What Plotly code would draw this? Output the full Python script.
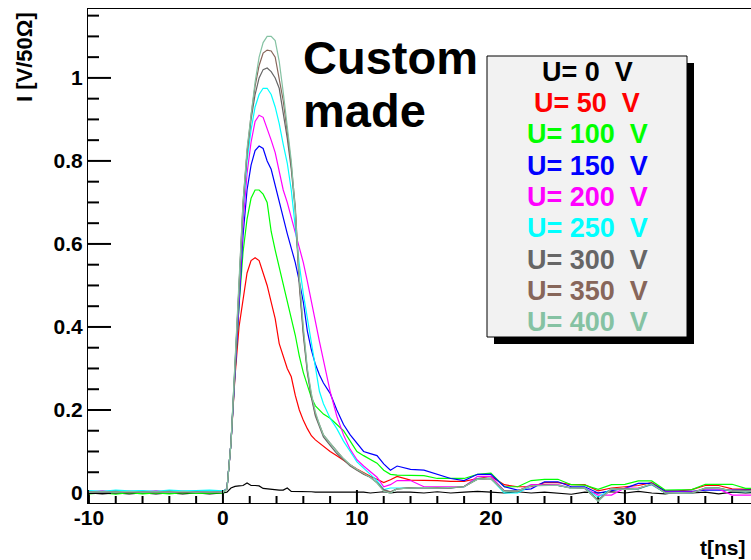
import plotly.graph_objects as go

# ---------------- data ----------------
T_PRE = [-10, -9, -8, -7, -6, -5, -4, -3, -2, -1, 0]
T_PULSE = [0.3, 0.6, 0.9, 1.2, 1.5, 1.8, 2.1, 2.4, 2.7, 3.0, 3.3, 3.6, 3.9, 4.2,
           4.5, 4.8, 5.1, 5.4, 5.7, 6.0, 6.3, 6.6, 6.9, 7.2, 7.5]
T_MID = [8.0, 8.5, 9.0, 9.5, 10, 10.5, 11, 11.5, 12, 12.5, 13]
T_TAIL = [14, 15, 16, 17, 18, 19, 20, 21, 22, 23, 24, 25, 26, 27, 28, 29, 30,
          31, 32, 33, 34, 35, 36, 37, 38, 39, 40]
T = T_PRE + T_PULSE + T_MID + T_TAIL

labels = ["U= 0  V", "U= 50  V", "U= 100  V", "U= 150  V", "U= 200  V",
          "U= 250  V", "U= 300  V", "U= 350  V", "U= 400  V"]

x_ticks = [-10, 0, 10, 20, 30]
x_ticktext = ["-10", "0", "10", "20", "30"]
x_minor = [-8, -6, -4, -2, 2, 4, 6, 8, 12, 14, 16, 18, 22, 24, 26, 28, 32, 34, 36, 38]
y_ticks = [0, 0.2, 0.4, 0.6, 0.8, 1.0]
y_ticktext = ["0", "0.2", "0.4", "0.6", "0.8", "1"]
y_minor = [0.05, 0.1, 0.15, 0.25, 0.3, 0.35, 0.45, 0.5, 0.55, 0.65, 0.7, 0.75,
           0.85, 0.9, 0.95, 1.05, 1.1, 1.15]

u0 = ([0.0, -0.002, 0.0, -0.002, 0.0, -0.002, 0.0, -0.002, 0.0, -0.002, 0.0]
      + [0.002, 0.012, 0.016, 0.017, 0.018, 0.024, 0.018, 0.018, 0.017, 0.011, 0.01, 0.008,
         0.008, 0.007, 0.007, 0.012, 0.004, 0.004, 0.004, 0.003, 0.003, 0.003, 0.002, 0.002, 0.002]
      + [0.002, 0.003, 0.002, 0.002, 0.003, 0.002, 0.0, 0.002, 0.003, 0.0, 0.002]
      + [0.002, 0.0, 0.003, 0.0, 0.002, 0.004, 0.002, 0.0, 0.003, 0.0, 0.002, 0.0, -0.003,
         0.002, 0.0, 0.003, 0.0, 0.004, 0.0, -0.002, 0.002, 0.0, 0.002, -0.002, 0.002, 0.0, 0.002])
u50 = ([0.002, 0.004, 0.002, 0.003, 0.001, 0.004, 0.002, 0.003, 0.002, 0.004, 0.003]
       + [0.01, 0.12, 0.28, 0.40, 0.47, 0.53, 0.56, 0.567, 0.56, 0.53, 0.50, 0.46, 0.42,
          0.36, 0.33, 0.30, 0.28, 0.235, 0.20, 0.175, 0.155, 0.138, 0.128, 0.12, 0.114]
       + [0.10, 0.09, 0.078, 0.068, 0.058, 0.048, 0.04, 0.033, 0.025, 0.032, 0.04]
       + [0.031, 0.031, 0.03, 0.028, 0.028, 0.035, 0.04, 0.02, 0.015, 0.015, 0.025, 0.025,
          0.02, 0.02, 0.005, 0.012, 0.015, 0.018, 0.025, 0.005, 0.005, 0.008, 0.018, 0.018,
          0.01, 0.008, 0.008])
u100 = ([-0.002, 0.0, -0.003, 0.001, -0.002, 0.0, -0.002, 0.001, -0.001, 0.0, 0.0]
        + [0.01, 0.12, 0.29, 0.45, 0.58, 0.66, 0.71, 0.73, 0.73, 0.72, 0.70, 0.63, 0.585,
           0.545, 0.505, 0.465, 0.42, 0.38, 0.33, 0.29, 0.26, 0.23, 0.21, 0.20, 0.19]
        + [0.18, 0.165, 0.15, 0.125, 0.10, 0.09, 0.08, 0.072, 0.055, 0.045, 0.043]
        + [0.043, 0.042, 0.035, 0.035, 0.035, 0.045, 0.048, 0.015, 0.015, 0.03, 0.033, 0.033,
           0.02, 0.019, 0.009, 0.02, 0.021, 0.029, 0.029, 0.007, 0.007, 0.008, 0.021, 0.021,
           0.021, 0.011, 0.011])
u150 = ([0.004, 0.002, 0.005, 0.003, 0.004, 0.002, 0.005, 0.003, 0.004, 0.003, 0.004]
        + [0.01, 0.12, 0.29, 0.47, 0.62, 0.73, 0.79, 0.825, 0.836, 0.83, 0.80, 0.78, 0.74,
           0.705, 0.66, 0.625, 0.59, 0.555, 0.51, 0.46, 0.39, 0.345, 0.31, 0.285, 0.265]
        + [0.24, 0.20, 0.165, 0.14, 0.12, 0.10, 0.095, 0.09, 0.07, 0.055, 0.065]
        + [0.057, 0.055, 0.045, 0.035, 0.03, 0.045, 0.045, 0.015, 0.007, 0.01, 0.027, 0.027,
           0.015, 0.015, 0.0, 0.005, 0.011, 0.023, 0.023, 0.004, 0.004, 0.004, 0.007, 0.007,
           0.007, 0.007, 0.007])
u200 = ([0.003, 0.005, 0.002, 0.004, 0.003, 0.005, 0.002, 0.004, 0.003, 0.005, 0.003]
        + [0.01, 0.12, 0.29, 0.48, 0.65, 0.77, 0.845, 0.895, 0.91, 0.905, 0.88, 0.85, 0.82,
           0.775, 0.73, 0.70, 0.665, 0.625, 0.59, 0.555, 0.51, 0.46, 0.41, 0.365, 0.32]
        + [0.245, 0.185, 0.14, 0.105, 0.08, 0.065, 0.052, 0.038, 0.015, 0.02, 0.03]
        + [0.03, 0.015, 0.015, 0.015, 0.015, 0.04, 0.04, 0.005, 0.005, 0.02, 0.02, 0.02,
           0.012, 0.012, -0.005, -0.005, 0.012, 0.012, 0.02, 0.002, 0.002, 0.002, 0.01, 0.01,
           -0.005, -0.005, -0.005])
u250 = ([0.006, 0.004, 0.007, 0.005, 0.006, 0.004, 0.007, 0.005, 0.006, 0.007, 0.005]
        + [0.01, 0.12, 0.29, 0.49, 0.68, 0.80, 0.875, 0.93, 0.96, 0.975, 0.975, 0.96, 0.93,
           0.89, 0.84, 0.795, 0.73, 0.64, 0.55, 0.48, 0.42, 0.36, 0.30, 0.245, 0.215]
        + [0.18, 0.155, 0.125, 0.10, 0.075, 0.06, 0.045, 0.03, 0.008, 0.012, 0.012]
        + [0.012, 0.012, 0.012, 0.012, 0.015, 0.035, 0.035, 0.0, 0.0, 0.018, 0.018, 0.018,
           0.012, 0.012, -0.01, 0.01, 0.01, 0.01, 0.02, 0.0, 0.0, 0.0, 0.012, 0.012,
           0.003, 0.003, 0.003])
u300 = ([0.002, 0.003, 0.001, 0.003, 0.002, 0.001, 0.003, 0.002, 0.001, 0.003, 0.002]
        + [0.01, 0.12, 0.30, 0.50, 0.69, 0.82, 0.90, 0.96, 1.0, 1.02, 1.024, 1.015, 1.0,
           0.975, 0.92, 0.855, 0.78, 0.68, 0.50, 0.38, 0.29, 0.23, 0.185, 0.16, 0.135]
        + [0.115, 0.095, 0.08, 0.065, 0.055, 0.045, 0.038, 0.025, 0.008, 0.003, 0.01]
        + [0.012, 0.012, 0.012, 0.012, 0.015, 0.033, 0.035, 0.005, 0.005, 0.018, 0.018, 0.018,
           0.012, 0.012, -0.017, 0.01, 0.01, 0.01, 0.022, 0.0, 0.0, 0.0, 0.012, 0.012,
           0.005, 0.005, 0.005])
u350 = ([0.003, 0.002, 0.004, 0.002, 0.003, 0.002, 0.004, 0.002, 0.003, 0.002, 0.003]
        + [0.01, 0.12, 0.30, 0.50, 0.70, 0.82, 0.91, 0.98, 1.03, 1.06, 1.067, 1.065, 1.05,
           1.0, 0.945, 0.87, 0.79, 0.69, 0.51, 0.39, 0.295, 0.235, 0.19, 0.165, 0.14]
        + [0.12, 0.10, 0.082, 0.067, 0.056, 0.046, 0.038, 0.025, 0.006, 0.002, 0.01]
        + [0.013, 0.012, 0.013, 0.012, 0.016, 0.034, 0.034, 0.004, 0.004, 0.018, 0.019, 0.018,
           0.012, 0.011, -0.018, 0.009, 0.01, 0.011, 0.021, 0.001, 0.0, 0.001, 0.011, 0.012,
           0.004, 0.005, 0.005])
u400 = ([0.002, 0.003, 0.002, 0.004, 0.002, 0.003, 0.002, 0.004, 0.002, 0.003, 0.002]
        + [0.01, 0.12, 0.30, 0.51, 0.70, 0.83, 0.91, 0.99, 1.05, 1.085, 1.10, 1.10, 1.09,
           1.04, 0.965, 0.888, 0.80, 0.68, 0.52, 0.40, 0.30, 0.24, 0.195, 0.165, 0.14]
        + [0.12, 0.10, 0.083, 0.068, 0.057, 0.047, 0.038, 0.024, 0.004, 0.0, 0.01]
        + [0.012, 0.013, 0.012, 0.013, 0.015, 0.033, 0.035, 0.004, 0.005, 0.017, 0.018, 0.019,
           0.011, 0.012, -0.02, 0.01, 0.009, 0.011, 0.022, 0.0, 0.001, 0.0, 0.012, 0.011,
           0.005, 0.004, 0.005])

series = [u0, u50, u100, u150, u200, u250, u300, u350, u400]
colors = ["#000000", "#ff0000", "#00ff00", "#0000ff", "#ff00ff", "#00ffff",
          "#666666", "#87665a", "#85c2a3"]

# ---------------- layout geometry ----------------
W, H = 751, 560
ML, MR, MT, MB = 88, 0, 9, 57
PW, PH = W - ML - MR, H - MT - MB
XR = [-10.07, 39.41]
YR = [-0.0241, 1.166]
XPX = (XR[1] - XR[0]) / PW   # data units per pixel
YPX = (YR[1] - YR[0]) / PH


def px(x):
    return (x - ML) / PW


def py(y):
    return (H - MB - y) / PH


FONT = "Liberation Sans, Arial, sans-serif"

fig = go.Figure()

# ROOT-style inside tick marks, built from the tick value lists
tx, ty = [], []
for tv, ln in [(v, 13) for v in x_ticks] + [(v, 7) for v in x_minor]:
    tx += [tv, tv, None]
    ty += [YR[0], YR[0] + ln * YPX, None]
for tv, ln in [(v, 23) for v in y_ticks] + [(v, 11) for v in y_minor]:
    tx += [XR[0], XR[0] + ln * XPX, None]
    ty += [tv, tv, None]
fig.add_trace(go.Scatter(x=tx, y=ty, mode="lines", line=dict(color="black", width=2),
                         connectgaps=False, showlegend=False, hoverinfo="skip"))

for vals, col, lab in zip(series, colors, labels):
    fig.add_trace(go.Scatter(x=T, y=vals, mode="lines", name=lab,
                             line=dict(color=col, width=1.2), showlegend=False))

fig.update_layout(
    width=W, height=H,
    margin=dict(l=ML, r=MR, t=MT, b=MB),
    paper_bgcolor="white", plot_bgcolor="white",
    xaxis=dict(range=XR, showgrid=False, zeroline=False,
               showline=True, linecolor="black", linewidth=1, mirror=True,
               tickmode="array", tickvals=x_ticks, ticktext=x_ticktext,
               ticks="inside", ticklen=13, tickwidth=1, tickcolor="black",
               ticklabelstandoff=-4,
               tickfont=dict(family=FONT, size=21, color="black", weight="bold")),
    yaxis=dict(range=YR, showgrid=False, zeroline=False,
               showline=True, linecolor="black", linewidth=1, mirror=False,
               tickmode="array", tickvals=y_ticks, ticktext=y_ticktext,
               ticks="inside", ticklen=23, tickwidth=1, tickcolor="black",
               ticklabelstandoff=0,
               tickfont=dict(family=FONT, size=21, color="black", weight="bold")),
)

# axis titles
fig.add_annotation(xref="paper", yref="paper", x=px(25), y=py(10), xanchor="center",
                   yanchor="top", textangle=-90, showarrow=False,
                   text="<b>I [V/50Ω]</b>", font=dict(family=FONT, size=22, color="black"))
fig.add_annotation(xref="paper", yref="paper", x=px(748), y=py(547), xanchor="right",
                   yanchor="middle", showarrow=False,
                   text="<b>t[ns]</b>", font=dict(family=FONT, size=21, color="black"))

# "Custom made"
fig.add_annotation(xref="paper", yref="paper", x=px(301), y=py(57), xanchor="left",
                   yanchor="middle", showarrow=False,
                   text="<b>Custom</b>", font=dict(family=FONT, size=47, color="black"))
fig.add_annotation(xref="paper", yref="paper", x=px(301), y=py(110), xanchor="left",
                   yanchor="middle", showarrow=False,
                   text="<b>made</b>", font=dict(family=FONT, size=47, color="black"))

# legend box with shadow
fig.add_shape(type="rect", xref="paper", yref="paper", x0=px(494), x1=px(694),
              y0=py(344), y1=py(63), fillcolor="black", line=dict(width=0), layer="above")
fig.add_shape(type="rect", xref="paper", yref="paper", x0=px(487), x1=px(687),
              y0=py(337), y1=py(56), fillcolor="#f2f2f2",
              line=dict(color="black", width=1), layer="above")
row_y = [72, 103, 134, 166, 197, 228, 260, 291, 322]
for lab, col, yy in zip(labels, colors, row_y):
    fig.add_annotation(xref="paper", yref="paper", x=px(587), y=py(yy), xanchor="center",
                       yanchor="middle", showarrow=False, text="<b>" + lab + "</b>",
                       font=dict(family=FONT, size=27, color=col))

fig.write_html("out.html")
